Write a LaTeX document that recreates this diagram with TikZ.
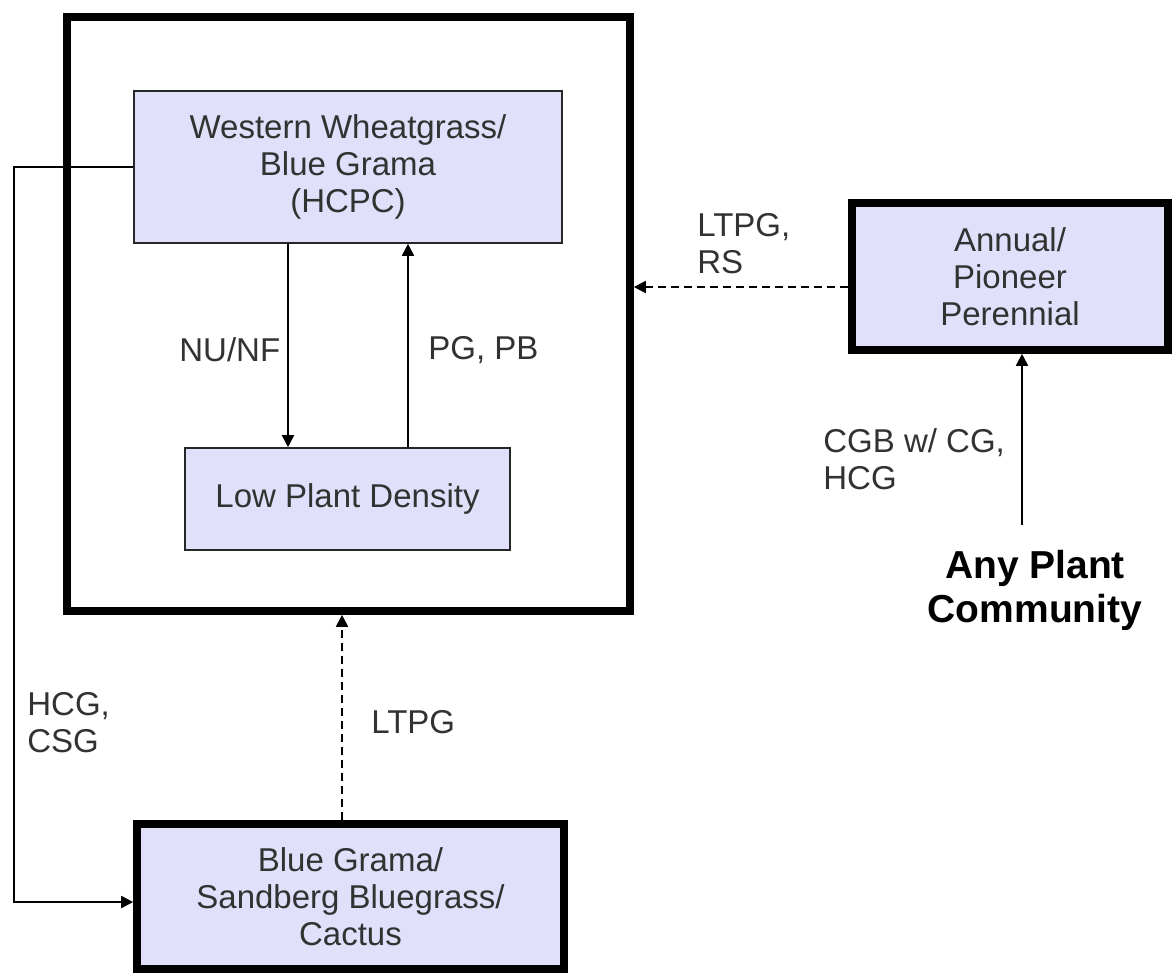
\documentclass[tikz,border=0pt]{standalone}
\usepackage{fontspec}
\setmainfont{Liberation Sans}
\usetikzlibrary{arrows.meta}
\definecolor{boxfill}{RGB}{224,224,250}
\definecolor{txt}{RGB}{50,50,50}
\begin{document}
\begin{tikzpicture}[x=0.5pt,y=-0.5pt,
  every node/.style={font=\fontsize{16.5}{18.5}\selectfont, text=txt},
  thinbox/.style={draw=black!85, line width=0.8pt, fill=boxfill, align=center, inner sep=0pt},
  thickbox/.style={draw=black, line width=3.8pt, fill=boxfill, align=center, inner sep=0pt},
  framebox/.style={draw=black, line width=3.8pt, inner sep=0pt},
  lbl/.style={anchor=west, align=left, inner sep=0pt},
  arr/.style={draw=black, line width=0.9pt, -{Triangle[length=6pt,width=6pt]}},
  darr/.style={arr, dash pattern=on 4pt off 2.5pt}]
\useasboundingbox (0,0) rectangle (1176,975);
\fill[white] (0,0) rectangle (1176,975);

\node[framebox, minimum width=281.5pt, minimum height=297pt] (frame) at (348.5,314) {};
\node[thinbox, minimum width=214pt, minimum height=76pt] (hcpc) at (348,167) {Western Wheatgrass/\\Blue Grama\\(HCPC)};
\node[thinbox, minimum width=162.5pt, minimum height=51pt] (low) at (347.5,499) {Low Plant Density};
\node[thickbox, minimum width=158pt, minimum height=73.5pt] (annual) at (1010,276.5) {Annual/\\Pioneer\\Perennial};
\node[thickbox, minimum width=213.5pt, minimum height=72.5pt] (bottom) at (350.5,896.5) {Blue Grama/\\Sandberg Bluegrass/\\Cactus};
\node[align=center, inner sep=0pt, text=black, font=\bfseries\fontsize{19.5}{22}\selectfont] (apc) at (1035,590) {Any Plant\\Community};

\coordinate (xa) at (288,0);
\coordinate (xb) at (408,0);
\coordinate (xc) at (342,0);
\coordinate (ya) at (0,287);
\coordinate (lc) at (14,0);
\coordinate (apcin) at (1022,525);

\draw[arr] (hcpc.south -| xa) -- (low.north -| xa);
\draw[arr] (low.north -| xb) -- (hcpc.south -| xb);
\draw[darr] (annual.west |- ya) -- (frame.east |- ya);
\draw[darr] (bottom.north -| xc) -- (frame.south -| xc);
\draw[arr] (apcin) -- (annual.south -| apcin);
\draw[arr] (hcpc.west) -- (hcpc.west -| lc) |- ([yshift=-2.75pt]bottom.west);

\node[lbl] (l1) at (179,350) {NU/NF};
\node[lbl] (l2) at (428,350) {PG, PB};
\node[lbl] (l3) at (697,244) {LTPG,\\RS};
\node[lbl] (l4) at (371,722) {LTPG};
\node[lbl] (l5) at (27,723) {HCG,\\CSG};
\node[lbl] (l6) at (823,459) {CGB w/ CG,\\HCG};
\end{tikzpicture}
\end{document}
